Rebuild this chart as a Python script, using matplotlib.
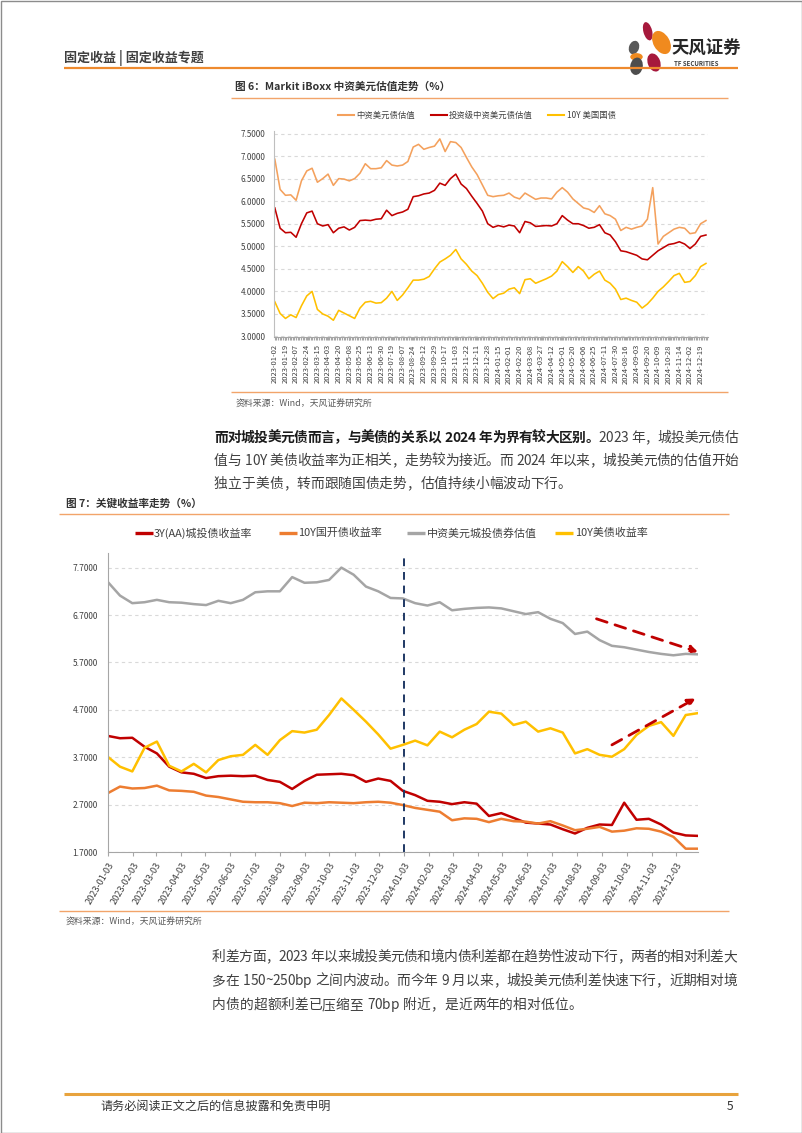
import numpy as np
import pandas as pd
import matplotlib
matplotlib.use('Agg')
import matplotlib.pyplot as plt
from matplotlib.patches import Ellipse, Rectangle
from matplotlib.font_manager import FontProperties
from matplotlib.ticker import FixedLocator, FuncFormatter

FAM = ['Noto Sans CJK SC', 'DejaVu Sans']
plt.rcParams['font.family'] = FAM
plt.rcParams['axes.unicode_minus'] = False

W, H, DPI = 802, 1133, 100

# ---------------- Chart 1 data (figure 6) ----------------
c1_tick_labels = ['2023-01-02', '2023-01-19', '2023-02-07', '2023-02-24', '2023-03-15', '2023-04-03',
                  '2023-04-20', '2023-05-08', '2023-05-25', '2023-06-13', '2023-06-30', '2023-07-19',
                  '2023-08-07', '2023-08-24', '2023-09-12', '2023-09-29', '2023-10-17', '2023-11-03',
                  '2023-11-22', '2023-12-11', '2023-12-28', '2024-01-15', '2024-02-01', '2024-02-20',
                  '2024-03-08', '2024-03-27', '2024-04-12', '2024-05-01', '2024-05-20', '2024-06-06',
                  '2024-06-25', '2024-07-11', '2024-07-30', '2024-08-16', '2024-09-03', '2024-09-20',
                  '2024-10-09', '2024-10-28', '2024-11-14', '2024-12-02', '2024-12-19']
c1_names = ['中资美元债估值', '投资级中资美元债估值', '10Y 美国国债']
c1_cn_usd = [6.93, 6.26, 6.13, 6.14, 6.02, 6.45, 6.67, 6.73, 6.42, 6.50, 6.60, 6.35, 6.50, 6.49,
             6.45, 6.50, 6.62, 6.83, 6.72, 6.72, 6.74, 6.90, 6.80, 6.78, 6.80, 6.88, 7.20, 7.26,
             7.15, 7.19, 7.22, 7.38, 7.10, 7.32, 7.30, 7.19, 6.97, 6.76, 6.59, 6.36, 6.13, 6.10,
             6.12, 6.13, 6.18, 6.09, 6.05, 6.18, 6.11, 6.04, 6.07, 6.07, 6.05, 6.20, 6.30, 6.20,
             6.05, 5.95, 5.85, 5.82, 5.75, 5.90, 5.72, 5.68, 5.60, 5.35, 5.42, 5.38, 5.42, 5.45,
             5.60, 6.30, 5.05, 5.22, 5.30, 5.38, 5.42, 5.40, 5.28, 5.30, 5.50, 5.57]
c1_ig = [5.85, 5.40, 5.30, 5.31, 5.20, 5.50, 5.74, 5.78, 5.50, 5.45, 5.48, 5.30, 5.40, 5.43,
         5.36, 5.42, 5.57, 5.58, 5.57, 5.60, 5.61, 5.80, 5.68, 5.73, 5.76, 5.82, 6.10, 6.12,
         6.16, 6.18, 6.24, 6.40, 6.35, 6.50, 6.60, 6.38, 6.28, 6.11, 5.95, 5.78, 5.50, 5.42,
         5.46, 5.43, 5.47, 5.45, 5.30, 5.55, 5.52, 5.44, 5.45, 5.46, 5.45, 5.50, 5.68, 5.58,
         5.50, 5.50, 5.46, 5.40, 5.42, 5.48, 5.30, 5.25, 5.10, 4.90, 4.88, 4.84, 4.80, 4.72,
         4.70, 4.80, 4.90, 4.97, 5.04, 5.06, 5.10, 5.05, 4.95, 5.05, 5.22, 5.25]
c1_ust = [3.77, 3.51, 3.40, 3.48, 3.42, 3.68, 3.90, 4.00, 3.60, 3.50, 3.45, 3.36, 3.58, 3.52,
          3.46, 3.40, 3.63, 3.76, 3.78, 3.74, 3.75, 3.85, 4.00, 3.80, 3.92, 4.08, 4.25, 4.25,
          4.27, 4.33, 4.50, 4.65, 4.72, 4.80, 4.93, 4.72, 4.60, 4.45, 4.35, 4.18, 3.98, 3.84,
          3.93, 3.96, 4.05, 4.08, 3.95, 4.26, 4.28, 4.18, 4.23, 4.28, 4.34, 4.45, 4.66, 4.55,
          4.42, 4.55, 4.45, 4.28, 4.38, 4.45, 4.25, 4.18, 4.05, 3.82, 3.85, 3.80, 3.76, 3.63,
          3.72, 3.85, 4.00, 4.10, 4.22, 4.35, 4.40, 4.20, 4.22, 4.35, 4.55, 4.62]

# ---------------- Chart 2 data (figure 7) ----------------
c2_names = ['3Y(AA)城投债收益率', '10Y国开债收益率', '中资美元城投债券估值', '10Y美债收益率']
c2_start, c2_end = '2023-01-03', '2024-12-30'
c2_lgfv_3y = [4.15, 4.10, 4.11, 3.92, 3.78, 3.50, 3.38, 3.35, 3.26, 3.30, 3.31, 3.30, 3.31, 3.22,
              3.18, 3.03, 3.20, 3.33, 3.34, 3.35, 3.32, 3.18, 3.25, 3.20, 2.99, 2.90, 2.78, 2.76,
              2.71, 2.75, 2.72, 2.46, 2.52, 2.42, 2.32, 2.30, 2.28, 2.18, 2.09, 2.21, 2.28, 2.27,
              2.74, 2.38, 2.40, 2.28, 2.11, 2.05, 2.04]
c2_cdb_10y = [2.94, 3.08, 3.04, 3.05, 3.10, 3.00, 2.99, 2.97, 2.89, 2.86, 2.81, 2.76, 2.75, 2.75,
              2.73, 2.67, 2.74, 2.73, 2.75, 2.74, 2.73, 2.75, 2.76, 2.74, 2.69, 2.63, 2.59, 2.55,
              2.37, 2.41, 2.40, 2.33, 2.40, 2.35, 2.34, 2.30, 2.35, 2.26, 2.16, 2.19, 2.23, 2.13,
              2.15, 2.20, 2.19, 2.13, 2.02, 1.77, 1.77]
c2_usd_lgfv = [7.40, 7.11, 6.95, 6.97, 7.02, 6.97, 6.96, 6.93, 6.91, 7.00, 6.95, 7.02, 7.18, 7.20,
               7.20, 7.50, 7.38, 7.39, 7.44, 7.70, 7.55, 7.30, 7.20, 7.06, 7.05, 6.95, 6.90, 6.97,
               6.80, 6.83, 6.85, 6.86, 6.84, 6.78, 6.72, 6.76, 6.62, 6.53, 6.30, 6.35, 6.17, 6.05,
               6.02, 5.97, 5.92, 5.88, 5.85, 5.88, 5.87]
c2_ust_10y = [3.71, 3.50, 3.40, 3.90, 4.03, 3.52, 3.40, 3.56, 3.38, 3.64, 3.72, 3.75, 3.96, 3.75,
              4.06, 4.25, 4.22, 4.28, 4.59, 4.94, 4.70, 4.45, 4.18, 3.88, 3.96, 4.05, 3.95, 4.24,
              4.12, 4.28, 4.40, 4.66, 4.62, 4.38, 4.45, 4.24, 4.31, 4.22, 3.78, 3.87, 3.75, 3.71,
              3.87, 4.17, 4.36, 4.44, 4.15, 4.59, 4.63]
c2_divider = '2024-01-03'
c2_arrow_down = (('2024-08-27', 6.62), ('2024-12-30', 5.92))
c2_arrow_up = (('2024-09-15', 3.96), ('2024-12-27', 4.94))

# colours
C1_COLORS = ['#F4A15D', '#C00000', '#FFC000']
C2_COLORS = ['#C00000', '#ED7D31', '#A5A5A5', '#FFC000']
ORANGE_RULE = '#EE8A2E'
TXT = '#404040'

fig = plt.figure(figsize=(W / DPI, H / DPI), dpi=DPI)
bg = fig.add_axes([0, 0, 1, 1], zorder=0)
bg.set_xlim(0, W)
bg.set_ylim(H, 0)
bg.axis('off')


def ax_rect(left, top, right, bottom):
    return [left / W, 1 - bottom / H, (right - left) / W, (bottom - top) / H]


def hline(y, x0, x1, color, lw):
    bg.plot([x0, x1], [y, y], color=color, lw=lw, solid_capstyle='butt')


# page border
bg.add_patch(Rectangle((0.5, 0.5), W - 1, H - 1, fill=False, ec='#8C8C8C', lw=1.0))

# header
bg.text(64, 58, '固定收益 | 固定收益专题', fontsize=9.4, weight='bold', color=TXT, va='center', ha='left')
hline(68, 64, 738, ORANGE_RULE, 1.6)
# logo (petals)
LC = (649, 50)
SC = 1.25
for (cx, cy, w, h, ang, col) in [(648, 35, 7, 15, -15, '#A6193C'), (659, 44, 13, 20, -30, '#F08A1E'),
                                 (637, 48, 8, 11, 20, '#595959'), (639, 55.5, 10, 6, 0, '#F08A1E'),
                                 (639, 63, 10, 14, 10, '#4D4D4D'), (653, 60, 10, 15, -20, '#A6193C')]:
    ex = LC[0] + (cx - LC[0]) * SC
    ey = LC[1] + (cy - LC[1]) * SC
    bg.add_patch(Ellipse((ex, ey), w * SC, h * SC, angle=ang, color=col, lw=0))
bg.text(671, 49, '天风证券', fontsize=12.5, weight='bold', color='#262626', va='center', ha='left')
bg.text(674, 63.5, 'TF SECURITIES', fontsize=4.4, weight='bold', color='#404040', va='center', ha='left')

# ---------------- Figure 6 ----------------
bg.text(235, 87, '图 6：Markit iBoxx 中资美元估值走势（%）', fontsize=7.7, weight='bold', color='#333333',
        va='center', ha='left')
hline(98, 231, 728, '#F2A46A', 1.0)

legend1 = [(338, 354, 356), (431, 447, 449), (548, 564, 567)]
for (a, b, t), name, col in zip(legend1, c1_names, C1_COLORS):
    bg.plot([a, b], [115, 115], color=col, lw=1.5)
    bg.text(t, 115, name, fontsize=6, color=TXT, va='center', ha='left')

ax1 = fig.add_axes(ax_rect(274, 130.8, 708, 336.5))
step1 = 13 / 2  # two readings per labelled tick interval (13 trading days)
for vals, col in zip([c1_cn_usd, c1_ig, c1_ust], C1_COLORS):
    xs = np.arange(len(vals)) * step1
    ax1.plot(xs, vals, color=col, lw=1.15)
ax1.set_xlim(-1, 529)
ax1.set_ylim(3.0, 7.56)
ax1.set_yticks(np.arange(3.0, 7.51, 0.5))
ax1.yaxis.set_major_formatter(FuncFormatter(lambda v, p: f'{v:.4f}'))
ax1.set_xticks(np.arange(len(c1_tick_labels)) * 13)
ax1.set_xticklabels(c1_tick_labels, rotation=90, fontsize=5.5, color=TXT)
ax1.xaxis.set_minor_locator(FixedLocator(np.arange(0, 529, 2)))
ax1.tick_params(axis='x', which='both', length=2.5, color='#A6A6A6', width=0.8, pad=3)
ax1.tick_params(axis='y', length=0, labelsize=5.8, labelcolor=TXT, pad=6)
ax1.yaxis.grid(True, ls=(0, (3, 3)), color='#D9D9D9', lw=0.8)
ax1.set_axisbelow(True)
for s in ['top', 'right']:
    ax1.spines[s].set_visible(False)
ax1.spines['left'].set_color('#BFBFBF')
ax1.spines['bottom'].set_color('#A6A6A6')
ax1.patch.set_alpha(0)

hline(392, 231, 728, '#F2A46A', 1.0)
bg.text(236, 404, '资料来源：Wind，天风证券研究所', fontsize=6.4, color='#595959', va='center', ha='left')

# ---------------- paragraphs ----------------
renderer = fig.canvas.get_renderer()


def text_line(segs, x0, x1, y, size, justify=True):
    items = []
    for s, bold, color in segs:
        fp = FontProperties(family=FAM, size=size, weight='bold' if bold else 'normal')
        for ch in s:
            if ch == ' ':
                w = size * DPI / 72 * 0.28
            else:
                w, _, _ = renderer.get_text_width_height_descent(ch, fp, ismath=False)
            items.append((ch, fp, color, w))
    total = sum(it[3] for it in items)
    gap = (x1 - x0 - total) / (len(items) - 1) if (justify and len(items) > 1) else 0.0
    x = x0
    for ch, fp, color, w in items:
        if ch != ' ':
            bg.text(x, y, ch, fontproperties=fp, color=color, ha='left', va='baseline')
        x += w + gap


PSIZE = 9.9
PCOL = '#404040'
text_line([('而对城投美元债而言，与美债的关系以 2024 年为界有较大区别。', True, '#1A1A1A'),
           ('2023 年，城投美元债估', False, PCOL)], 214, 738, 442, PSIZE)
text_line([('值与 10Y 美债收益率为正相关，走势较为接近。而 2024 年以来，城投美元债的估值开始', False, PCOL)],
          214, 738, 465, PSIZE)
text_line([('独立于美债，转而跟随国债走势，估值持续小幅波动下行。', False, PCOL)], 214, 738, 488, PSIZE,
          justify=False)

# ---------------- Figure 7 ----------------
bg.text(66, 503, '图 7：关键收益率走势（%）', fontsize=7.7, weight='bold', color='#333333', va='center', ha='left')
hline(514, 59, 729, '#F2A46A', 1.0)

legend2 = [(135, 153, 154), (279, 297, 298), (407, 425, 427), (555, 573, 575)]
for (a, b, t), name, col in zip(legend2, c2_names, C2_COLORS):
    bg.plot([a, b], [533, 533], color=col, lw=2.4, solid_capstyle='butt')
    bg.text(t, 533, name, fontsize=7.9, color=TXT, va='center', ha='left')

ax2 = fig.add_axes(ax_rect(107.7, 553.4, 698, 852))
dates2 = pd.date_range(c2_start, c2_end, periods=len(c2_usd_lgfv))
for vals, col in zip([c2_lgfv_3y, c2_cdb_10y, c2_usd_lgfv, c2_ust_10y], C2_COLORS):
    ax2.plot(dates2, vals, color=col, lw=1.8)
ax2.set_xlim(pd.Timestamp(c2_start), pd.Timestamp(c2_end))
ax2.set_ylim(1.7, 8.0)
ax2.set_yticks(np.arange(1.7, 7.71, 1.0))
ax2.yaxis.set_major_formatter(FuncFormatter(lambda v, p: f'{v:.4f}'))
tick_dates = pd.date_range(c2_start, periods=24, freq=pd.DateOffset(months=1))
ax2.set_xticks(tick_dates)
ax2.set_xticklabels([d.strftime('%Y-%m-%d') for d in tick_dates], rotation=60, ha='right',
                    rotation_mode='anchor', fontsize=6.6, color=TXT)
ax2.tick_params(axis='x', length=3, color='#A6A6A6', pad=3)
ax2.tick_params(axis='y', length=0, labelsize=6.0, labelcolor=TXT, pad=7)
ax2.yaxis.grid(True, ls=(0, (3, 3)), color='#D9D9D9', lw=0.8)
ax2.set_axisbelow(True)
for s in ['top', 'right']:
    ax2.spines[s].set_visible(False)
ax2.spines['left'].set_color('#A6A6A6')
ax2.spines['bottom'].set_color('#A6A6A6')
ax2.patch.set_alpha(0)
ax2.axvline(pd.Timestamp(c2_divider), color='#1F3864', lw=1.4, ls=(0, (4, 3)))
for (s0, v0), (s1, v1) in [c2_arrow_down, c2_arrow_up]:
    ax2.annotate('', xy=(pd.Timestamp(s1), v1), xytext=(pd.Timestamp(s0), v0),
                 arrowprops=dict(arrowstyle='-|>', color='#C00000', lw=2.0, ls=(0, (4, 3)),
                                 mutation_scale=11, shrinkA=0, shrinkB=0))

hline(911, 59, 729, '#F2A46A', 1.0)
bg.text(66, 922, '资料来源：Wind，天风证券研究所', fontsize=6.4, color='#595959', va='center', ha='left')

text_line([('利差方面，2023 年以来城投美元债和境内债利差都在趋势性波动下行，两者的相对利差大', False, PCOL)],
          212, 737, 961, PSIZE)
text_line([('多在 150~250bp 之间内波动。而今年 9 月以来，城投美元债利差快速下行，近期相对境', False, PCOL)],
          212, 737, 985, PSIZE)
text_line([('内债的超额利差已压缩至 70bp 附近，是近两年的相对低位。', False, PCOL)], 212, 737, 1009, PSIZE,
          justify=False)

# footer
hline(1094, 64, 738, '#E8A33D', 2.2)
bg.text(100, 1106, '请务必阅读正文之后的信息披露和免责申明', fontsize=8.7, color='#333333', va='center', ha='left')
bg.text(733, 1106, '5', fontsize=8.7, color='#333333', va='center', ha='right')

fig.savefig('out.png', dpi=DPI)
